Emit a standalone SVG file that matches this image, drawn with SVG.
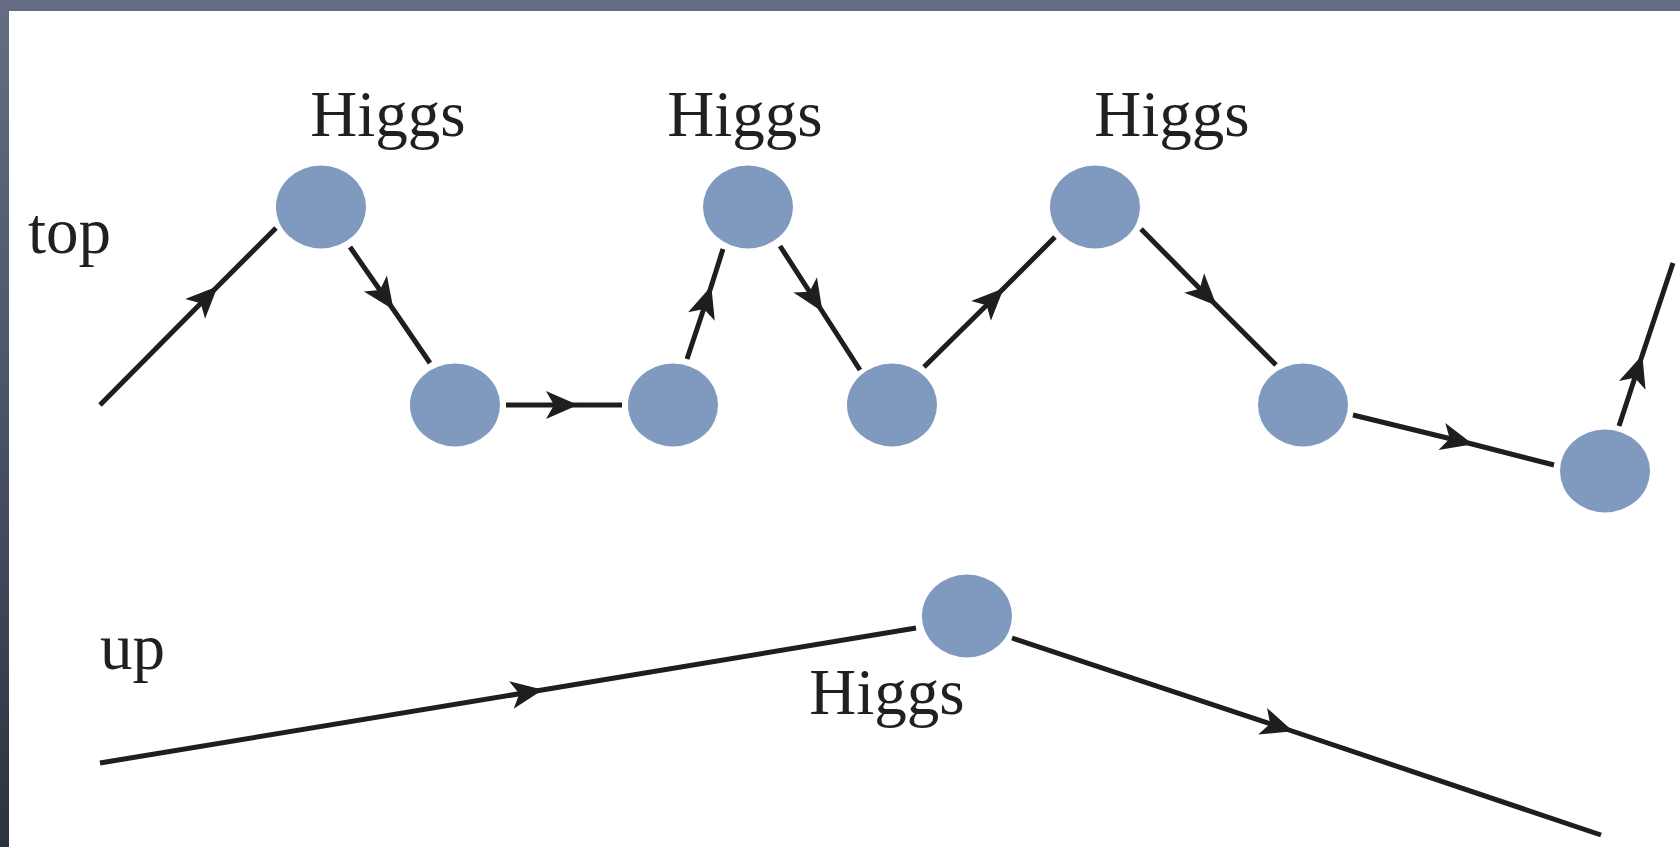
<svg xmlns="http://www.w3.org/2000/svg" width="1680" height="847" viewBox="0 0 1680 847">
  <defs>
    <linearGradient id="frame" x1="0" y1="0" x2="0" y2="1">
      <stop offset="0" stop-color="#646d84"/>
      <stop offset="0.5" stop-color="#4a5266"/>
      <stop offset="1" stop-color="#2c323e"/>
    </linearGradient>
    <!-- concave "stealth" arrowhead, tip at the vertex it sits on -->
    <marker id="arr" viewBox="-36 -18 38 36" refX="0" refY="0" markerWidth="38" markerHeight="36" markerUnits="userSpaceOnUse" orient="auto">
      <path d="M1,0 L-31,-14 L-23,0 L-31,14 Z" fill="#1e1e1e"/>
    </marker>
    <style>
      .node { fill: #8099bf; }
      .edge { fill: none; stroke: #1e1e1e; stroke-width: 5; stroke-linecap: butt; marker-mid: url(#arr); }
      .lbl { font-family: "Liberation Serif", "Times New Roman", serif; font-size: 65px; fill: #231f20; }
    </style>
  </defs>

  <!-- slide frame and white canvas -->
  <rect x="0" y="0" width="1680" height="847" fill="url(#frame)"/>
  <rect x="9" y="11" width="1671" height="836" fill="#ffffff"/>

  <!-- connectors: each path has a middle vertex where the arrowhead sits -->
  <g id="connectors">
    <path class="edge" d="M100,405 L217,287 L276,228"/>
    <path class="edge" d="M350,247 L393,309 L430,363"/>
    <path class="edge" d="M506,405 L577,405 L622,405"/>
    <path class="edge" d="M687,359 L711,287 L723,249"/>
    <path class="edge" d="M780,246 L822,311 L860,370"/>
    <path class="edge" d="M924,367 L1003,289 L1055,237"/>
    <path class="edge" d="M1141,229 L1216,305 L1276,365"/>
    <path class="edge" d="M1353,415 L1472,444 L1554,465"/>
    <path class="edge" d="M1619,426 L1642,356 L1673,263"/>
    <path class="edge" d="M100,763 L542,690 L916,628"/>
    <path class="edge" d="M1012,638 L1292,731 L1601,835"/>
  </g>

  <!-- vertices -->
  <g id="n1"><ellipse class="node" cx="321" cy="207" rx="45" ry="41.5"/></g>
  <g id="n2"><ellipse class="node" cx="455" cy="405" rx="45" ry="41.5"/></g>
  <g id="n3"><ellipse class="node" cx="673" cy="405" rx="45" ry="41.5"/></g>
  <g id="n4"><ellipse class="node" cx="748" cy="207" rx="45" ry="41.5"/></g>
  <g id="n5"><ellipse class="node" cx="892" cy="405" rx="45" ry="41.5"/></g>
  <g id="n6"><ellipse class="node" cx="1095" cy="207" rx="45" ry="41.5"/></g>
  <g id="n7"><ellipse class="node" cx="1303" cy="405" rx="45" ry="41.5"/></g>
  <g id="n8"><ellipse class="node" cx="1605" cy="471" rx="45" ry="41.5"/></g>
  <g id="n9"><ellipse class="node" cx="967" cy="616" rx="45" ry="41.5"/></g>

  <!-- labels -->
  <g id="labels">
    <text class="lbl" x="388" y="136" text-anchor="middle">Higgs</text>
    <text class="lbl" x="745" y="136" text-anchor="middle">Higgs</text>
    <text class="lbl" x="1172" y="136" text-anchor="middle">Higgs</text>
    <text class="lbl" x="887" y="714" text-anchor="middle">Higgs</text>
    <text class="lbl" x="28" y="253">top</text>
    <text class="lbl" x="100" y="669">up</text>
  </g>
</svg>
